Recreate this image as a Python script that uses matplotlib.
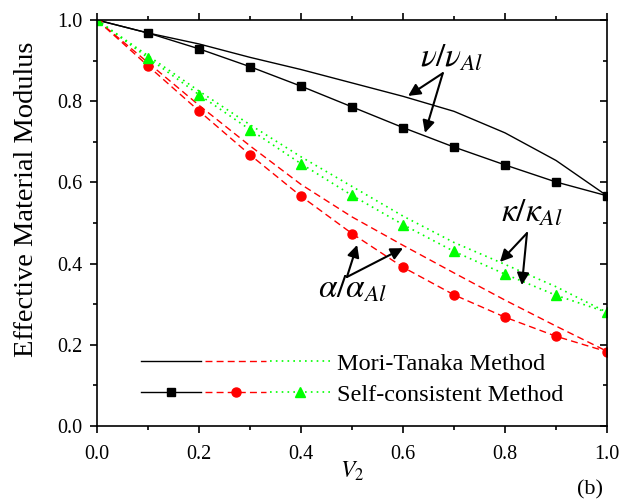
import matplotlib
matplotlib.use("Agg")
import matplotlib.pyplot as plt
from matplotlib.legend_handler import HandlerTuple
from matplotlib.ticker import MultipleLocator, FormatStrFormatter
from matplotlib.lines import TICKLEFT

plt.rcParams['font.family'] = ['Liberation Serif', 'DejaVu Serif']
plt.rcParams['mathtext.fontset'] = 'stix'

# ---- data ----
v2 = [0.0, 0.1, 0.2, 0.3, 0.4, 0.5, 0.6, 0.7, 0.8, 0.9, 1.0]
mt_nu = [1.0, 0.968, 0.941, 0.908, 0.878, 0.845, 0.812, 0.775, 0.722, 0.654, 0.567]
sc_nu = [1.0, 0.968, 0.929, 0.885, 0.837, 0.786, 0.735, 0.687, 0.643, 0.601, 0.567]
mt_alpha = [1.0, 0.895, 0.790, 0.690, 0.595, 0.515, 0.445, 0.377, 0.310, 0.246, 0.184]
sc_alpha = [1.0, 0.887, 0.776, 0.668, 0.566, 0.474, 0.391, 0.323, 0.268, 0.221, 0.183]
mt_kappa = [1.0, 0.912, 0.825, 0.742, 0.663, 0.590, 0.517, 0.452, 0.398, 0.343, 0.280]
sc_kappa = [1.0, 0.907, 0.816, 0.730, 0.646, 0.568, 0.496, 0.430, 0.374, 0.322, 0.280]

legend_labels = ["Mori-Tanaka Method", "Self-consistent Method"]

RED = '#ff0000'
GREEN = '#00ff00'

fig = plt.figure(figsize=(6.32, 5.0), dpi=100)
ax = fig.add_axes([0.1535, 0.148, 0.807, 0.812])

l1, = ax.plot(v2, mt_nu, color='k', lw=1.0)
l2, = ax.plot(v2, mt_alpha, color=RED, lw=1.0, ls=(0, (5, 3)))
l3, = ax.plot(v2, mt_kappa, color=GREEN, lw=1.2, ls=(0, (1, 2.5)))
s1, = ax.plot(v2, sc_nu, color='k', lw=1.0, marker='s', ms=5.5, mec='k', mfc='k')
s2, = ax.plot(v2, sc_alpha, color=RED, lw=1.0, ls=(0, (5, 3)), marker='o', ms=6.5, mec=RED, mfc=RED)
s3, = ax.plot(v2, sc_kappa, color=GREEN, lw=1.2, ls=(0, (1, 2.5)), marker='^', ms=7, mec=GREEN, mfc=GREEN)

ax.set_xlim(0, 1.0)
ax.set_ylim(0, 1.0)
ax.xaxis.set_major_locator(MultipleLocator(0.2))
ax.xaxis.set_minor_locator(MultipleLocator(0.1))
ax.yaxis.set_major_locator(MultipleLocator(0.2))
ax.yaxis.set_minor_locator(MultipleLocator(0.1))
ax.xaxis.set_major_formatter(FormatStrFormatter('%.1f'))
ax.yaxis.set_major_formatter(FormatStrFormatter('%.1f'))

ax.tick_params(axis='both', which='both', direction='out', labelsize=14.5, width=1.2)
ax.tick_params(axis='both', which='major', length=5)
ax.tick_params(axis='both', which='minor', length=3)
ax.tick_params(axis='x', which='both', top=True, labeltop=False, pad=9)
ax.tick_params(axis='y', which='both', right=True, labelright=False, pad=5.5)
for t in ax.yaxis.get_major_ticks() + ax.yaxis.get_minor_ticks():
    t.tick2line.set_marker(TICKLEFT)
for sp in ax.spines.values():
    sp.set_linewidth(1.2)

ax.set_xlabel(r'$V_2$', fontsize=17)
ax.xaxis.set_label_coords(0.5, -0.083)
ax.set_ylabel('Effective Material Modulus', fontsize=20.5)
ax.yaxis.set_label_coords(-0.114, 0.559)

fig.text(0.954, 0.002, '(b)', fontsize=16, ha='right', va='bottom')

leg = ax.legend([(l1, l2, l3), (s1, s2, s3)], legend_labels,
                handler_map={tuple: HandlerTuple(ndivide=None, pad=0.17)},
                loc='center left', bbox_to_anchor=(0.086, 0.115),
                frameon=False, fontsize=17.5, handlelength=7.8,
                handletextpad=0.25, borderpad=0, borderaxespad=0,
                labelspacing=0.38, numpoints=1)

arrow = dict(arrowstyle='-|>', color='k', lw=1.5, mutation_scale=18,
             shrinkA=0, shrinkB=0)

# nu labels
ax.annotate('', xy=(0.610, 0.813), xytext=(0.678, 0.869), arrowprops=arrow)
ax.annotate('', xy=(0.643, 0.722), xytext=(0.678, 0.869), arrowprops=arrow)
ax.text(0.696, 0.906, r'$\nu/\nu_{Al}$', fontsize=24, ha='center', va='center')

# kappa labels
ax.annotate('', xy=(0.790, 0.404), xytext=(0.843, 0.475), arrowprops=arrow)
ax.annotate('', xy=(0.833, 0.347), xytext=(0.843, 0.475), arrowprops=arrow)
ax.text(0.853, 0.525, r'$\kappa/\kappa_{Al}$', fontsize=24, ha='center', va='center')

# alpha labels
ax.annotate('', xy=(0.510, 0.446), xytext=(0.490, 0.367), arrowprops=arrow)
ax.annotate('', xy=(0.600, 0.438), xytext=(0.490, 0.367), arrowprops=arrow)
ax.text(0.50, 0.338, r'$\alpha/\alpha_{Al}$', fontsize=24, ha='center', va='center')

fig.savefig('out.png', dpi=100)
